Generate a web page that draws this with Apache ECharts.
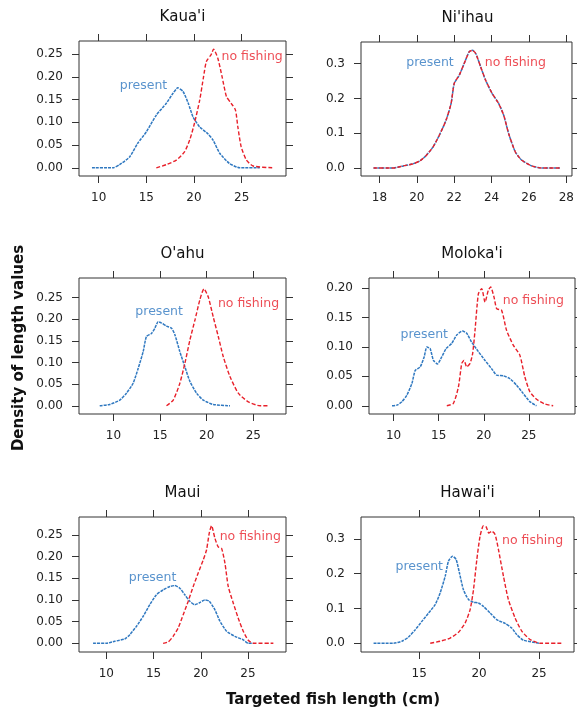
<!DOCTYPE html>
<html>
<head>
<meta charset="utf-8">
<script src="https://cdn.jsdelivr.net/npm/echarts@6/dist/echarts.min.js"></script>
<style>
  html, body { margin: 0; padding: 0; background: #fff; }
  #chart { width: 577px; height: 712px; }
</style>
</head>
<body>
<div id="chart"></div>
<script>
// density curves, [length cm, density]
const kauaiPresent = [[9.3,0],[11.5,0],[12.2,0.007],[13.25,0.024],[14.1,0.054],[15.0,0.079],[16.05,0.116],[17.1,0.142],[17.8,0.164],[18.3,0.176],[18.85,0.168],[19.4,0.142],[19.9,0.112],[20.6,0.090],[21.5,0.074],[22.0,0.061],[22.7,0.032],[23.7,0.010],[24.8,0],[26.9,0]];
const kauaiNoFishing = [[16.05,0],[17.1,0.007],[18.15,0.017],[19.0,0.035],[19.55,0.061],[20.05,0.098],[20.6,0.149],[21.0,0.2],[21.3,0.234],[21.8,0.249],[22.05,0.261],[22.5,0.241],[22.95,0.2],[23.4,0.157],[23.9,0.142],[24.35,0.127],[24.6,0.090],[24.95,0.046],[25.5,0.017],[26.2,0.004],[28.3,0]];

const niihauPresent = [[17.68,0],[18.74,0],[19.27,0.006],[19.8,0.012],[20.15,0.020],[20.5,0.036],[20.86,0.060],[21.2,0.094],[21.56,0.137],[21.83,0.185],[22.0,0.243],[22.27,0.267],[22.53,0.300],[22.8,0.334],[22.97,0.338],[23.15,0.329],[23.41,0.291],[23.68,0.252],[24.03,0.214],[24.38,0.185],[24.65,0.151],[24.91,0.099],[25.27,0.046],[25.62,0.022],[26.15,0.006],[26.68,0],[27.65,0]];
const niihauNoFishing = niihauPresent; // the two curves coincide

const oahuPresent = [[8.53,0],[9.6,0.003],[10.68,0.013],[11.4,0.029],[12.11,0.052],[12.65,0.086],[13.19,0.125],[13.54,0.160],[14.08,0.167],[14.44,0.179],[14.8,0.194],[15.16,0.191],[15.69,0.184],[16.23,0.179],[16.59,0.164],[17.12,0.125],[17.66,0.090],[18.2,0.056],[18.92,0.029],[19.63,0.013],[20.7,0.003],[22.5,0]];
const oahuNoFishing = [[15.69,0],[16.41,0.013],[17.12,0.052],[17.66,0.098],[18.2,0.152],[18.74,0.198],[19.27,0.245],[19.7,0.270],[20.17,0.251],[20.7,0.205],[21.24,0.160],[21.78,0.113],[22.5,0.067],[23.39,0.029],[24.46,0.009],[25.72,0],[26.6,0]];

const molokaiPresent = [[9.82,0],[10.37,0.001],[10.92,0.007],[11.47,0.018],[12.03,0.038],[12.4,0.060],[12.95,0.066],[13.39,0.083],[13.69,0.100],[14.05,0.097],[14.42,0.077],[14.87,0.071],[15.34,0.083],[15.82,0.097],[16.45,0.106],[17.0,0.120],[17.63,0.127],[18.11,0.123],[18.66,0.108],[19.4,0.092],[20.14,0.077],[20.87,0.063],[21.43,0.052],[22.16,0.051],[22.9,0.046],[23.64,0.035],[24.37,0.021],[25.11,0.007],[25.85,0]];
const molokaiNoFishing = [[15.9,0],[16.63,0.004],[17.19,0.032],[17.56,0.072],[17.81,0.077],[18.11,0.066],[18.48,0.072],[18.77,0.089],[19.03,0.128],[19.4,0.190],[19.77,0.199],[20.14,0.176],[20.5,0.196],[20.76,0.202],[21.13,0.185],[21.43,0.165],[21.98,0.162],[22.53,0.128],[23.27,0.103],[24.0,0.086],[24.56,0.049],[25.11,0.024],[25.85,0.011],[26.77,0.003],[27.7,0]];

const mauiPresent = [[8.59,0],[10.0,0],[10.88,0.0046],[11.95,0.010],[12.48,0.020],[13.18,0.039],[13.89,0.062],[14.6,0.089],[15.3,0.112],[16.01,0.123],[16.72,0.131],[17.25,0.133],[17.78,0.127],[18.31,0.112],[18.84,0.097],[19.37,0.089],[19.83,0.093],[20.43,0.100],[20.9,0.097],[21.5,0.077],[22.03,0.051],[22.73,0.028],[23.62,0.016],[24.5,0.008],[25.03,0],[25.56,0]];
const mauiNoFishing = [[16.01,0],[16.54,0.003],[17.07,0.016],[17.6,0.035],[18.14,0.066],[18.67,0.097],[19.2,0.131],[19.73,0.162],[20.26,0.192],[20.61,0.215],[20.9,0.254],[21.14,0.271],[21.5,0.242],[21.85,0.222],[22.2,0.219],[22.56,0.185],[22.91,0.131],[23.44,0.093],[23.97,0.058],[24.5,0.028],[25.03,0.007],[25.56,0],[27.69,0]];

const hawaiiPresent = [[11.19,0],[12.86,0],[13.56,0.006],[14.11,0.018],[14.67,0.039],[15.22,0.063],[15.78,0.087],[16.33,0.111],[16.75,0.145],[17.17,0.193],[17.44,0.236],[17.78,0.250],[18.08,0.241],[18.36,0.202],[18.69,0.154],[19.11,0.126],[19.53,0.118],[19.94,0.116],[20.36,0.106],[20.92,0.087],[21.47,0.068],[22.17,0.057],[22.72,0.044],[23.14,0.025],[23.69,0.009],[24.53,0.003],[25.08,0]];
const hawaiiNoFishing = [[15.92,0],[16.75,0.006],[17.58,0.015],[18.28,0.032],[18.83,0.058],[19.25,0.097],[19.53,0.154],[19.81,0.241],[20.08,0.308],[20.36,0.338],[20.58,0.335],[20.81,0.317],[21.06,0.322],[21.33,0.313],[21.61,0.270],[22.03,0.193],[22.44,0.126],[23.0,0.073],[23.56,0.035],[24.25,0.011],[25.08,0],[26.89,0]];

const islandNames = ["Kaua'i", "Ni'ihau", "O'ahu", "Moloka'i", "Maui", "Hawai'i"];

const xTicks = [
  [10, 15, 20, 25],
  [18, 20, 22, 24, 26, 28],
  [10, 15, 20, 25],
  [10, 15, 20, 25],
  [10, 15, 20, 25],
  [15, 20, 25]
];
const yTicks = [
  [0, 0.05, 0.10, 0.15, 0.20, 0.25],
  [0, 0.1, 0.2, 0.3],
  [0, 0.05, 0.10, 0.15, 0.20, 0.25],
  [0, 0.05, 0.10, 0.15, 0.20],
  [0, 0.05, 0.10, 0.15, 0.20, 0.25],
  [0, 0.1, 0.2, 0.3]
];
const yDecimals = [2, 1, 2, 2, 2, 1];

// axis ranges per panel
const xRanges = [[7.94, 29.65], [17.01, 28.3], [6.31, 28.5], [7.27, 30.12], [7.1, 29.03], [10.14, 27.92]];
const yRanges = [[-0.018, 0.279], [-0.023, 0.362], [-0.019, 0.295], [-0.014, 0.217], [-0.02, 0.291], [-0.025, 0.363]];

// where the curve labels sit, in data units
const presentAnchors = [[14.7, 0.18], [20.7, 0.303], [14.9, 0.2176], [13.4, 0.121], [14.9, 0.152], [15.0, 0.221]];
const noFishingAnchors = [[26.1, 0.245], [25.27, 0.303], [24.48, 0.235], [25.5, 0.178], [25.24, 0.2465], [24.46, 0.296]];

const presentCurves = [kauaiPresent, niihauPresent, oahuPresent, molokaiPresent, mauiPresent, hawaiiPresent];
const noFishingCurves = [kauaiNoFishing, niihauNoFishing, oahuNoFishing, molokaiNoFishing, mauiNoFishing, hawaiiNoFishing];

// panel boxes in px
const boxes = [
  { left: 79, top: 41, width: 207, height: 135 },
  { left: 361, top: 42, width: 213, height: 134 },
  { left: 79, top: 278, width: 207, height: 136 },
  { left: 369, top: 278, width: 206, height: 136 },
  { left: 79, top: 517, width: 207, height: 135 },
  { left: 361, top: 517, width: 213, height: 135 }
];

const font = 'DejaVu Sans';
const blue = '#2f78c0';
const red = '#e8202a';
const ink = '#222';

const grids = [], xAxes = [], yAxes = [], series = [], graphics = [];

boxes.forEach((b, i) => {
  grids.push({
    left: b.left, top: b.top, width: b.width, height: b.height,
    show: true, borderColor: '#333', borderWidth: 1, containLabel: false
  });

  const tick = { show: true, length: 7, inside: false, lineStyle: { color: '#333', width: 1 } };
  const noLine = { show: false, onZero: false };

  xAxes.push({
    type: 'value', gridIndex: i, position: 'bottom',
    min: xRanges[i][0], max: xRanges[i][1],
    axisLine: noLine, splitLine: { show: false },
    axisTick: Object.assign({ customValues: xTicks[i] }, tick),
    axisLabel: { customValues: xTicks[i], margin: 16, color: ink, fontFamily: font, fontSize: 12 }
  });
  xAxes.push({
    type: 'value', gridIndex: i, position: 'top',
    min: xRanges[i][0], max: xRanges[i][1],
    axisLine: noLine, splitLine: { show: false },
    axisTick: Object.assign({ customValues: xTicks[i] }, tick),
    axisLabel: { show: false }
  });
  yAxes.push({
    type: 'value', gridIndex: i, position: 'left',
    min: yRanges[i][0], max: yRanges[i][1],
    axisLine: noLine, splitLine: { show: false },
    axisTick: Object.assign({ customValues: yTicks[i] }, tick),
    axisLabel: {
      customValues: yTicks[i], margin: 16, color: ink, fontFamily: font, fontSize: 12,
      formatter: v => Number(v).toFixed(yDecimals[i])
    }
  });
  yAxes.push({
    type: 'value', gridIndex: i, position: 'right',
    min: yRanges[i][0], max: yRanges[i][1],
    axisLine: noLine, splitLine: { show: false },
    axisTick: Object.assign({ customValues: yTicks[i] }, tick),
    axisLabel: { show: false }
  });

  series.push({
    type: 'line', xAxisIndex: 2 * i, yAxisIndex: 2 * i,
    data: presentCurves[i], showSymbol: false, smooth: 0.2, silent: true,
    lineStyle: { color: blue, width: 1.5, type: [3, 1] }
  });
  series.push({
    type: 'line', xAxisIndex: 2 * i, yAxisIndex: 2 * i,
    data: noFishingCurves[i], showSymbol: false, smooth: 0.2, silent: true,
    lineStyle: { color: red, width: 1.4, type: [4, 2] }
  });
  series.push({
    type: 'scatter', xAxisIndex: 2 * i, yAxisIndex: 2 * i,
    data: [presentAnchors[i]], symbolSize: 1, silent: true,
    itemStyle: { color: 'rgba(0,0,0,0)' },
    label: { show: true, position: 'inside', formatter: 'present', color: blue, fontFamily: font, fontSize: 12.5 }
  });
  series.push({
    type: 'scatter', xAxisIndex: 2 * i, yAxisIndex: 2 * i,
    data: [noFishingAnchors[i]], symbolSize: 1, silent: true,
    itemStyle: { color: 'rgba(0,0,0,0)' },
    label: { show: true, position: 'inside', formatter: 'no fishing', color: red, fontFamily: font, fontSize: 12.5 }
  });

  graphics.push({
    type: 'text',
    x: b.left + b.width / 2, y: b.top - 24,
    style: { text: islandNames[i], fill: '#111', font: '15px "DejaVu Sans"', align: 'center', verticalAlign: 'middle' }
  });
});

graphics.push({
  type: 'text', x: 19, y: 348, rotation: Math.PI / 2,
  style: { text: 'Density of length values', fill: '#111', font: 'bold 15px "DejaVu Sans"', align: 'center', verticalAlign: 'middle' }
});
graphics.push({
  type: 'text', x: 333, y: 700,
  style: { text: 'Targeted fish length (cm)', fill: '#111', font: 'bold 15px "DejaVu Sans"', align: 'center', verticalAlign: 'middle' }
});

const chart = echarts.init(document.getElementById('chart'), null, { renderer: 'canvas' });
chart.setOption({
  animation: false,
  backgroundColor: '#fff',
  grid: grids,
  xAxis: xAxes,
  yAxis: yAxes,
  series: series,
  graphic: graphics
});
</script>
</body>
</html>
